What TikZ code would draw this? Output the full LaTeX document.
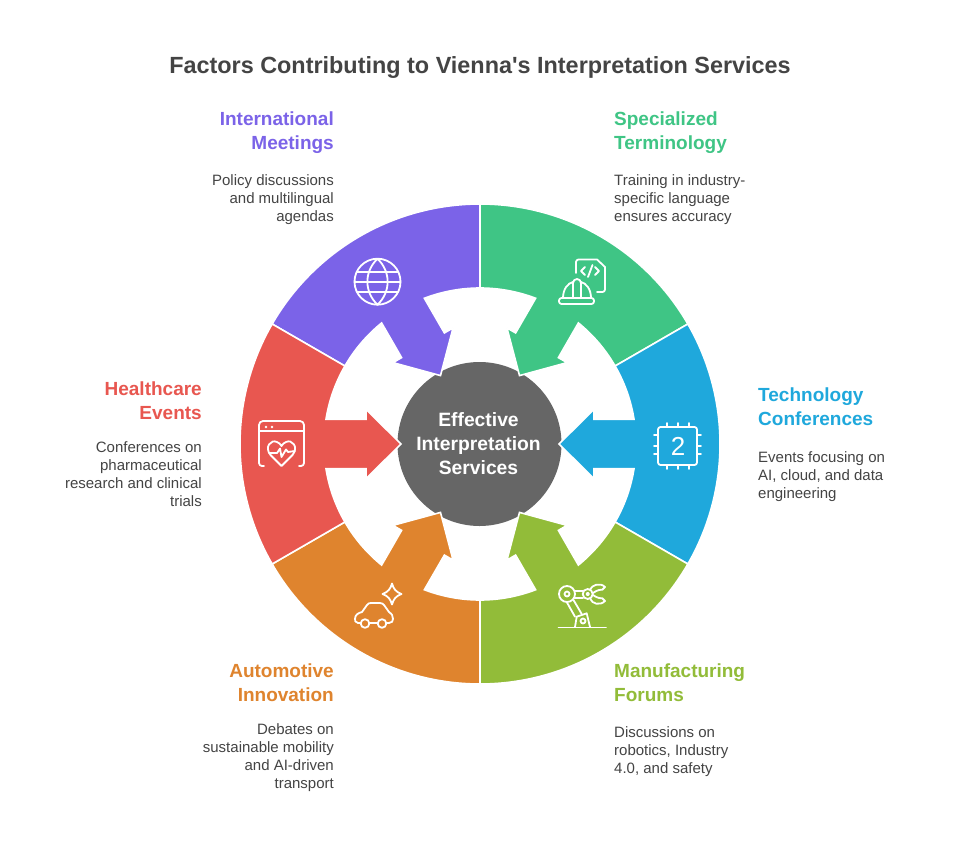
\documentclass[tikz,border=0pt]{standalone}
\usepackage{fontspec}
\setmainfont{Liberation Sans}
\definecolor{cpurple}{HTML}{7B63E8}
\definecolor{cgreen}{HTML}{3FC585}
\definecolor{cblue}{HTML}{1FA8DC}
\definecolor{clime}{HTML}{92BC39}
\definecolor{corange}{HTML}{DF842E}
\definecolor{cred}{HTML}{E85750}
\definecolor{cgrey}{HTML}{666666}
\definecolor{ctext}{HTML}{444444}
\tikzset{
  titletext/.style={font=\fontsize{23.4}{28}\selectfont\bfseries,text=ctext,inner sep=0pt},
  headR/.style={font=\fontsize{19}{24}\selectfont\bfseries,align=right,anchor=north east,inner sep=0pt},
  headL/.style={font=\fontsize{19}{24}\selectfont\bfseries,align=left,anchor=north west,inner sep=0pt},
  bodyR/.style={font=\fontsize{15}{18}\selectfont,text=ctext,align=right,anchor=north east,inner sep=0pt},
  bodyL/.style={font=\fontsize{15}{18}\selectfont,text=ctext,align=left,anchor=north west,inner sep=0pt},
  hub/.style={circle,fill=cgrey,minimum size=164pt,inner sep=0pt,text=white,align=center,font=\fontsize{19.3}{24}\selectfont\bfseries},
  petal/.style={fill=#1,draw=white,line width=1.6pt,line join=miter},
  ico/.style={draw=white,line width=1.8pt,line cap=round,line join=round,fill=none}
}
\newcommand\petalat[2]{%
  \begin{scope}[shift={(480,-444)},rotate=#1]
    \path[petal=#2] (30:240) arc[start angle=30,end angle=-30,radius=240]
      -- (-30:156) arc[start angle=-30,end angle=-9.1,radius=156]
      -- (114,-24.7) -- (114,-34.7) -- (79,0) -- (114,34.7) -- (114,24.7) -- (9.1:156)
      arc[start angle=9.1,end angle=30,radius=156] -- cycle;
  \end{scope}}
\begin{document}
\begin{tikzpicture}[x=1pt,y=1pt]
\useasboundingbox (0,0) rectangle (960,-840);
\fill[white] (0,0) rectangle (960,-840);
\node[titletext] (title) at (480,-68) {Factors Contributing to Vienna\textquotesingle s Interpretation Services};
\node[hub] (centre) at (479.5,-444) {\hspace*{-2pt}Effective\\\hspace*{-2pt}Interpretation\\\hspace*{-2pt}Services};
\petalat{120}{cpurple}
\petalat{60}{cgreen}
\petalat{0}{cblue}
\petalat{-60}{clime}
\petalat{-120}{corange}
\petalat{180}{cred}

% globe
\begin{scope}[ico,shift={(377.5,-281.7)}]
  \draw (0,0) circle[radius=23];
  \draw (-20.7,10) -- (20.7,10) (-23,0) -- (23,0) (-20.7,-10.5) -- (20.7,-10.5);
  \draw (0,23) .. controls (-13.5,10) and (-13.5,-10) .. (0,-23) .. controls (13.5,-10) and (13.5,10) .. (0,23);
\end{scope}
% helmet and code sheet
\begin{scope}[ico]
  \draw (576,-273) -- (576,-262) arc[start angle=180,end angle=90,radius=2.5] -- (597,-259.5) -- (605,-267) -- (605,-289.5) arc[start angle=0,end angle=-90,radius=2.5] -- (597,-292);
  \draw (585,-267) -- (581,-271) -- (585,-275);
  \draw (595,-267) -- (599,-271) -- (595,-275);
  \draw (592.5,-265) -- (588,-277);
  \draw[rounded corners=2.5pt] (559,-298) rectangle (594,-304);
  \draw (563,-298) .. controls (563,-289) and (568,-283) .. (573,-282);
  \draw (581,-282) .. controls (586,-283) and (591,-289) .. (591,-298);
  \draw (573,-298) -- (573,-283) arc[start angle=180,end angle=0,radius=4] -- (581,-298);
\end{scope}
% chip
\begin{scope}[ico]
  \draw[rounded corners=2.5pt] (658,-427) rectangle (697,-465);
  \foreach \p in {667,678,689}{\draw (\p,-423) -- (\p,-427) (\p,-465) -- (\p,-469);}
  \foreach \q in {435,446,454}{\draw (654,-\q) -- (658,-\q) (697,-\q) -- (701,-\q);}
\end{scope}
\node[text=white,font=\fontsize{26}{26}\selectfont,inner sep=0pt] (chipnum) at (678,-446) {2};
% health window
\begin{scope}[ico]
  \draw (264,-466) -- (262,-466) arc[start angle=270,end angle=180,radius=3] -- (259,-425) arc[start angle=180,end angle=90,radius=4] -- (300,-421) arc[start angle=90,end angle=0,radius=4] -- (304,-463) arc[start angle=0,end angle=-90,radius=3] -- (299,-466);
  \draw (259,-431) -- (304,-431);
  \fill[white] (266,-427) circle[radius=1.3] (272,-427) circle[radius=1.3];
  \draw (281.5,-466) -- (270.5,-455) .. controls (264,-447) and (271,-439) .. (277,-442) .. controls (279,-443) and (280.5,-444) .. (281.5,-446) .. controls (282.5,-444) and (284,-443) .. (286,-442) .. controls (292,-439) and (299,-447) .. (292.5,-455) -- cycle;
  \draw (269,-453) -- (277,-453) -- (280,-448.5) -- (281.5,-457) -- (286,-449.5) -- (288,-452) -- (295,-451);
\end{scope}
% car
\begin{scope}[ico]
  \draw (360.5,-623) -- (358,-623) .. controls (355,-623) and (355,-620) .. (355,-619) .. controls (355,-615) and (358,-613) .. (362,-612) -- (367,-605) .. controls (368,-603.5) and (369,-603) .. (371,-603) -- (380,-603) .. controls (382,-603) and (383,-604) .. (384,-605) -- (389,-612) .. controls (392,-614) and (393,-616) .. (393,-619) .. controls (393,-621) and (392,-623) .. (389,-623) -- (386.5,-623);
  \draw (369.5,-623) -- (377.5,-623);
  \draw (365,-623.5) circle[radius=4.3] (382,-623.5) circle[radius=4.3];
  \draw (392,-583.5) .. controls (393.5,-589) and (396,-592) .. (401.5,-594) .. controls (396,-596) and (393.5,-599) .. (392,-604.5) .. controls (390.5,-599) and (388,-596) .. (382.5,-594) .. controls (388,-592) and (390.5,-589) .. (392,-583.5) -- cycle;
\end{scope}
% robot arm
\begin{scope}[ico]
  \draw (558.5,-627.5) -- (606,-627.5);
  \draw (575,-627) -- (576.7,-616.7) -- (586.7,-613.3) -- (590,-627);
  \draw (583,-621) circle[radius=2.5];
  \draw (567,-594) circle[radius=8] (567,-594) circle[radius=2.5];
  \draw (566.7,-602) -- (575,-616.7) (573.5,-600) -- (581.7,-614);
  \draw (574.5,-590.7) -- (583,-590.7) (574.5,-598) -- (583,-598);
  \draw (587.7,-594) circle[radius=5] (587.7,-594) circle[radius=1.3];
  \draw (590,-589.5) .. controls (592,-585) and (600,-582) .. (605,-587) .. controls (604,-590) and (601,-590) .. (599,-590) .. controls (597,-590) and (595,-592) .. (593,-593);
  \draw (590,-598.5) .. controls (592,-604) and (600,-606) .. (605,-601) .. controls (604,-598) and (601,-598) .. (599,-598) .. controls (597,-598) and (595,-596) .. (593,-595);
\end{scope}

% labels
\node[headR,text=cpurple] (h1) at (334,-112) {International\\Meetings};
\node[bodyR] (b1) at (334,-174) {Policy discussions\\and multilingual\\agendas};
\node[headL,text=cgreen] (h2) at (614,-112) {Specialized\\Terminology};
\node[bodyL] (b2) at (614,-174) {Training in industry-\\specific language\\ensures accuracy};
\node[headL,text=cblue] (h3) at (758,-388) {Technology\\Conferences};
\node[bodyL] (b3) at (758,-451) {Events focusing on\\AI, cloud, and data\\engineering};
\node[headR,text=cred] (h4) at (202,-382) {Healthcare\\Events};
\node[bodyR] (b4) at (202,-441) {Conferences on\\pharmaceutical\\research and clinical\\trials};
\node[headR,text=corange] (h5) at (334,-664) {Automotive\\Innovation};
\node[bodyR] (b5) at (334,-723) {Debates on\\sustainable mobility\\and AI-driven\\transport};
\node[headL,text=clime] (h6) at (614,-664) {Manufacturing\\Forums};
\node[bodyL] (b6) at (614,-726) {Discussions on\\robotics, Industry\\4.0, and safety};
\end{tikzpicture}
\end{document}
